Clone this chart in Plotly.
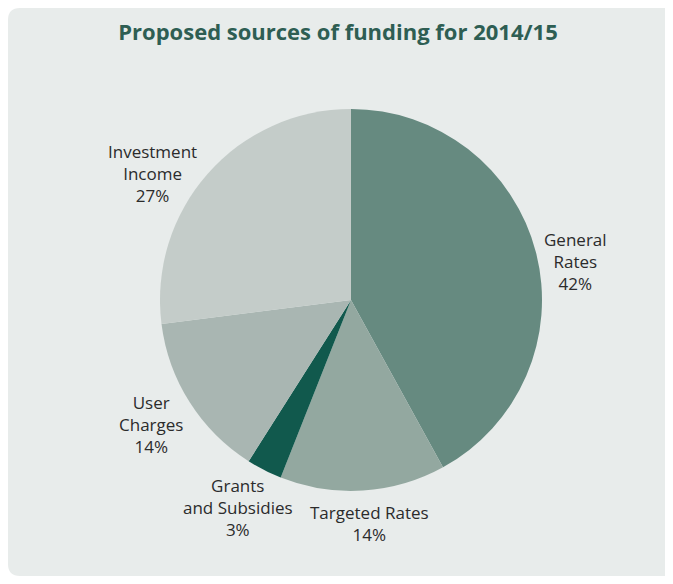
import plotly.graph_objects as go

WIN_W, WIN_H = 673, 584
OFF = 8  # page body margin in the browser
W, H = WIN_W - OFF, WIN_H - 2 * OFF

categories = ["General<br>Rates", "Targeted Rates", "Grants<br>and Subsidies", "User<br>Charges", "Investment<br>Income"]
values = [42, 14, 3, 14, 27]
pct_labels = ["42%", "14%", "3%", "14%", "27%"]
colors = ["#668a80", "#93a8a0", "#11594d", "#a9b6b2", "#c4ccc9"]

# label anchor positions (window pixels, centre of the text block)
label_pos = [(575, 261), (369, 523), (238, 507), (151, 424), (152, 173)]

cx, cy, r = 351 - OFF, 300 - OFF, 191

fig = go.Figure(go.Pie(
    values=values,
    labels=[c.replace("<br>", " ") for c in categories],
    textinfo="none",
    sort=False,
    direction="clockwise",
    rotation=0,
    marker=dict(colors=colors, line=dict(width=0)),
    showlegend=False,
    hoverinfo="skip",
    domain=dict(x=[(cx - r) / W, (cx + r) / W], y=[1 - (cy + r) / H, 1 - (cy - r) / H]),
))

annotations = []
for c, p, (lx, ly) in zip(categories, pct_labels, label_pos):
    annotations.append(dict(
        text=f"{c}<br>{p}", x=(lx - OFF) / W, y=1 - (ly - OFF) / H,
        xref="paper", yref="paper", xanchor="center", yanchor="middle",
        showarrow=False, align="center",
        font=dict(family="Open Sans", size=17, color="#2b2b2b"),
    ))

x0, y0, x1, y1, rad = 0.0, 1.0, 1.0, 0.0, 12
rx, ry = rad / W, rad / H
path = (f"M {x0+rx},{y0} L {x1},{y0} L {x1},{y1} L {x0+rx},{y1} "
        f"Q {x0},{y1} {x0},{y1+ry} L {x0},{y0-ry} Q {x0},{y0} {x0+rx},{y0} Z")

fig.update_layout(
    width=W, height=H,
    margin=dict(l=0, r=0, t=0, b=0),
    paper_bgcolor="white",
    annotations=annotations,
    shapes=[dict(type="path", path=path, xref="paper", yref="paper",
                 fillcolor="#e8eceb", line=dict(width=0), layer="below")],
    title=dict(text="<b>Proposed sources of funding for 2014/15</b>",
               x=(338 - OFF) / W, xanchor="center", y=1 - (32 - OFF) / H, yanchor="middle",
               font=dict(family="Open Sans", size=22, color="#2e5e53")),
)

fig.write_html("out.html")
